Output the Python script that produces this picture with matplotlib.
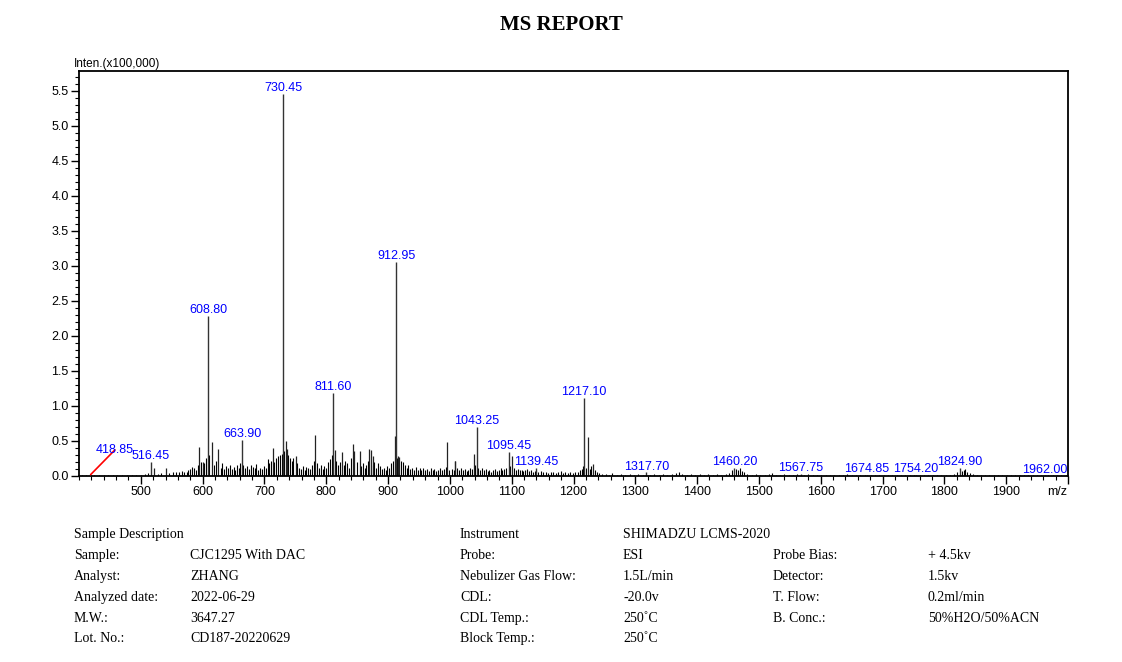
import matplotlib
matplotlib.use("Agg")
import matplotlib.pyplot as plt
from matplotlib.ticker import MultipleLocator, FixedLocator

# ---------------- data ----------------
peak_mz = [418.85, 516.45, 608.80, 663.90, 730.45, 811.60, 912.95, 1043.25,
           1095.45, 1139.45, 1217.10, 1317.70, 1460.20, 1567.75, 1674.85,
           1754.20, 1824.90, 1962.00]
peak_int = [0.02, 0.20, 2.28, 0.51, 5.45, 1.19, 3.06, 0.70,
            0.34, 0.12, 1.11, 0.05, 0.12, 0.03, 0.02,
            0.02, 0.12, 0.01]
peak_labels = ["418.85", "516.45", "608.80", "663.90", "730.45", "811.60",
               "912.95", "1043.25", "1095.45", "1139.45", "1217.10", "1317.70",
               "1460.20", "1567.75", "1674.85", "1754.20", "1824.90", "1962.00"]

# unlabelled secondary peaks
minor_mz = [594.9, 601.3, 614.9, 625.6, 713.7, 734.1, 736.3, 750.9, 782.0,
            813.5, 824.8, 842.6, 845.0, 853.9, 869.8, 872.0, 876.0, 910.6,
            916.0, 918.0, 995.4, 1007.8, 1038.6, 1100.7, 1008.9, 1223.9, 1231.9,
            521.0, 540.0]
minor_int = [0.42, 0.20, 0.48, 0.39, 0.40, 0.50, 0.39, 0.28, 0.59,
             0.37, 0.34, 0.46, 0.36, 0.36, 0.38, 0.37, 0.28, 0.57,
             0.28, 0.27, 0.48, 0.22, 0.31, 0.29, 0.22, 0.56, 0.17,
             0.12, 0.12]

# background noise peaks
noise_mz = [405, 412, 425, 433, 440, 447, 455, 462, 470, 478, 485, 493, 500, 507,
            512, 527, 533, 546, 552, 557, 562, 566, 570, 574, 577,
            580, 583, 586, 589, 592, 597, 600, 603, 606, 611, 618, 621, 629, 632,
            635, 638, 641, 644, 647, 650, 653, 656, 659, 661, 666, 669, 672, 675,
            678, 681, 684, 687, 690, 693, 696, 699, 702, 705, 708, 711, 716, 719,
            722, 725, 728, 732, 738, 741, 744, 747, 753, 756, 759, 762, 765, 768,
            771, 774, 777, 780, 785, 788, 791, 794, 797, 800, 803, 806, 809, 816,
            819, 822, 828, 831, 834, 837, 840, 850, 856, 859, 862, 865, 867, 875,
            878, 881, 884, 887, 890, 893, 896, 899, 902, 905, 908, 915, 921, 924,
            927, 930, 933, 936, 939, 942, 945, 948, 951, 954, 957, 960, 963, 966,
            969, 972, 975, 978, 981, 984, 987, 990, 993, 998,
            1003, 1006, 1012, 1015, 1018, 1021, 1024, 1027, 1030, 1033, 1036, 1041,
            1046, 1049, 1052, 1055, 1058, 1061, 1064, 1067, 1070, 1073, 1076, 1079,
            1082, 1085, 1088, 1091, 1098, 1104, 1107, 1110, 1113, 1116, 1119, 1122,
            1125, 1128, 1131, 1134, 1137, 1143, 1147, 1151, 1155, 1159, 1163, 1167,
            1171, 1175, 1179, 1183, 1187, 1191, 1195, 1199, 1203, 1207, 1210, 1213,
            1215, 1220, 1227, 1229, 1235, 1238, 1242, 1246,
            1252, 1258, 1263, 1270, 1277, 1284, 1291, 1298, 1305, 1312, 1324, 1331,
            1338, 1345, 1352, 1359, 1366, 1371, 1376, 1383, 1390, 1397, 1404, 1411,
            1418, 1425, 1432, 1439, 1446, 1452, 1457, 1463, 1466, 1469, 1472, 1476,
            1481, 1488, 1495, 1502, 1509, 1516, 1521, 1527, 1534, 1541, 1548, 1555,
            1562, 1573, 1580, 1587, 1594, 1601, 1608, 1615, 1622, 1629, 1636, 1643,
            1650, 1657, 1664, 1671, 1681, 1688, 1695, 1702, 1709, 1716, 1723, 1730,
            1737, 1744, 1751, 1760, 1767, 1774, 1781, 1788, 1795, 1802, 1809, 1816,
            1820, 1828, 1831, 1834, 1837, 1841, 1846, 1852, 1859, 1866, 1873, 1880,
            1887, 1894, 1901, 1908, 1915, 1922, 1929, 1936, 1943, 1950, 1957, 1968,
            1975, 1982, 1989, 1996]
noise_int = [0.01, 0.01, 0.01, 0.02, 0.01, 0.02, 0.01, 0.02, 0.01, 0.02, 0.02, 0.01, 0.02, 0.03,
             0.04, 0.03, 0.04, 0.04, 0.05, 0.06, 0.05, 0.07, 0.06, 0.05, 0.08,
             0.10, 0.13, 0.12, 0.09, 0.15, 0.20, 0.12, 0.18, 0.25, 0.30, 0.15, 0.22, 0.12, 0.18,
             0.10, 0.14, 0.12, 0.16, 0.10, 0.13, 0.09, 0.15, 0.11, 0.18, 0.16, 0.12, 0.14, 0.10,
             0.15, 0.13, 0.11, 0.17, 0.09, 0.12, 0.10, 0.14, 0.12, 0.24, 0.18, 0.22, 0.20, 0.25,
             0.28, 0.30, 0.32, 0.35, 0.30, 0.26, 0.22, 0.25, 0.18, 0.12, 0.10, 0.14, 0.09, 0.13,
             0.11, 0.10, 0.16, 0.22, 0.18, 0.12, 0.15, 0.10, 0.14, 0.11, 0.20, 0.24, 0.30, 0.22,
             0.16, 0.20, 0.15, 0.22, 0.18, 0.12, 0.25, 0.20, 0.14, 0.18, 0.12, 0.15, 0.22, 0.15,
             0.20, 0.12, 0.18, 0.14, 0.10, 0.12, 0.09, 0.14, 0.11, 0.18, 0.22, 0.25, 0.22, 0.20,
             0.16, 0.12, 0.15, 0.10, 0.12, 0.09, 0.13, 0.08, 0.11, 0.09, 0.12, 0.08, 0.10, 0.07,
             0.11, 0.08, 0.10, 0.07, 0.09, 0.12, 0.08, 0.10, 0.13, 0.09,
             0.10, 0.08, 0.12, 0.09, 0.11, 0.08, 0.10, 0.07, 0.09, 0.12, 0.10, 0.15,
             0.12, 0.09, 0.11, 0.08, 0.10, 0.07, 0.09, 0.06, 0.08, 0.10, 0.07, 0.09,
             0.11, 0.08, 0.10, 0.12, 0.14, 0.12, 0.09, 0.10, 0.08, 0.09, 0.07, 0.08,
             0.10, 0.07, 0.08, 0.06, 0.07, 0.06, 0.07, 0.05, 0.06, 0.04, 0.05, 0.06,
             0.04, 0.05, 0.07, 0.04, 0.05, 0.04, 0.05, 0.04, 0.05, 0.06, 0.08, 0.10,
             0.14, 0.12, 0.10, 0.14, 0.08, 0.05, 0.04, 0.03,
             0.03, 0.02, 0.04, 0.02, 0.03, 0.02, 0.03, 0.02, 0.03, 0.02, 0.02, 0.03,
             0.02, 0.03, 0.02, 0.03, 0.04, 0.05, 0.03, 0.02, 0.03, 0.02, 0.03, 0.02,
             0.03, 0.02, 0.03, 0.02, 0.03, 0.04, 0.08, 0.10, 0.09, 0.11, 0.07, 0.05,
             0.03, 0.02, 0.03, 0.02, 0.02, 0.03, 0.04, 0.02, 0.02, 0.03, 0.02, 0.02,
             0.03, 0.02, 0.03, 0.02, 0.02, 0.02, 0.02, 0.02, 0.02, 0.02, 0.02, 0.03,
             0.02, 0.02, 0.02, 0.02, 0.02, 0.02, 0.02, 0.02, 0.02, 0.02, 0.02, 0.02,
             0.02, 0.02, 0.02, 0.02, 0.02, 0.02, 0.02, 0.02, 0.02, 0.02, 0.02, 0.03,
             0.05, 0.07, 0.09, 0.10, 0.06, 0.04, 0.03, 0.02, 0.02, 0.02, 0.02, 0.01,
             0.01, 0.01, 0.01, 0.01, 0.01, 0.01, 0.01, 0.01, 0.01, 0.01, 0.01, 0.01,
             0.01, 0.01, 0.01, 0.01]

x_ticks = [500, 600, 700, 800, 900, 1000, 1100, 1200, 1300, 1400, 1500, 1600,
           1700, 1800, 1900, 2000]
x_tick_labels = ["500", "600", "700", "800", "900", "1000", "1100", "1200",
                 "1300", "1400", "1500", "1600", "1700", "1800", "1900", ""]
y_ticks = [0.0, 0.5, 1.0, 1.5, 2.0, 2.5, 3.0, 3.5, 4.0, 4.5, 5.0, 5.5]

info_left_keys = ["Sample Description", "Sample:", "Analyst:", "Analyzed date:", "M.W.:", "Lot. No.:"]
info_left_vals = ["", "CJC1295 With DAC", "ZHANG", "2022-06-29", "3647.27", "CD187-20220629"]
info_mid_keys = ["Instrument", "Probe:", "Nebulizer Gas Flow:", "CDL:", "CDL Temp.:", "Block Temp.:"]
info_mid_vals = ["SHIMADZU LCMS-2020", "ESI", "1.5L/min", "-20.0v", "250\u02daC", "250\u02daC"]
info_right_keys = ["", "Probe Bias:", "Detector:", "T. Flow:", "B. Conc.:", ""]
info_right_vals = ["", "+ 4.5kv", "1.5kv", "0.2ml/min", "50%H2O/50%ACN", ""]

# ---------------- figure ----------------
W, H = 1122, 662
fig = plt.figure(figsize=(W / 100, H / 100), dpi=100)
ax = fig.add_axes([79 / W, 1 - 476 / H, (1068 - 79) / W, (476 - 71) / H])

sans = ["Liberation Sans", "DejaVu Sans"]
serif = ["Liberation Serif", "DejaVu Serif"]

ax.vlines(noise_mz, 0, noise_int, color="black", lw=0.8)
ax.vlines(minor_mz, 0, minor_int, color="#222222", lw=0.9)
ax.vlines(peak_mz, 0, peak_int, color="#333333", lw=1.0)

for mz, it, lab in zip(peak_mz, peak_int, peak_labels):
    if lab == "418.85":
        ax.annotate(lab, xy=(mz, it), xytext=(17.5, 13.5), textcoords="offset points",
                    ha="center", va="bottom", color="blue", fontsize=9, family=sans,
                    arrowprops=dict(arrowstyle="-", color="red", lw=1.2, patchA=None,
                                    shrinkA=0, shrinkB=0))
    else:
        ax.annotate(lab, xy=(mz, it), xytext=(0, 2), textcoords="offset points",
                    ha="center", va="baseline", color="blue", fontsize=9, family=sans)

ax.set_xlim(400, 2000)
ax.set_ylim(0, 5.78)
ax.xaxis.set_major_locator(FixedLocator(x_ticks))
ax.set_xticklabels(x_tick_labels)
ax.xaxis.set_minor_locator(MultipleLocator(20))
ax.yaxis.set_major_locator(FixedLocator(y_ticks))
ax.set_yticklabels([f"{v:.1f}" for v in y_ticks])
ax.yaxis.set_minor_locator(MultipleLocator(0.1))
ax.tick_params(which="major", direction="out", length=6, width=1.0, color="black",
               labelsize=9, pad=1.5)
ax.tick_params(which="minor", direction="out", length=3, width=0.8, color="black")
for lbl in ax.get_xticklabels() + ax.get_yticklabels():
    lbl.set_family(sans)
for s in ax.spines.values():
    s.set_linewidth(1.3)
    s.set_color("black")

fig.text(1057 / W, 1 - 492 / H, "m/z", ha="center", va="center", fontsize=9, family=sans)
fig.text(74 / W, 1 - 64 / H, "Inten.(x100,000)", ha="left", va="center", fontsize=8.5, family=sans)
fig.text(561 / W, 1 - 25 / H, "MS REPORT", ha="center", va="center", fontsize=15,
         fontweight="bold", family=serif)

rows_y = [538, 559, 580, 601, 622, 642]
cols = [(74, info_left_keys), (190, info_left_vals), (460, info_mid_keys),
        (623, info_mid_vals), (773, info_right_keys), (928, info_right_vals)]
for cx, texts in cols:
    for ry, t in zip(rows_y, texts):
        if t:
            fig.text(cx / W, 1 - ry / H, t, ha="left", va="baseline", fontsize=10, family=serif)

fig.savefig("out.png", dpi=100)
